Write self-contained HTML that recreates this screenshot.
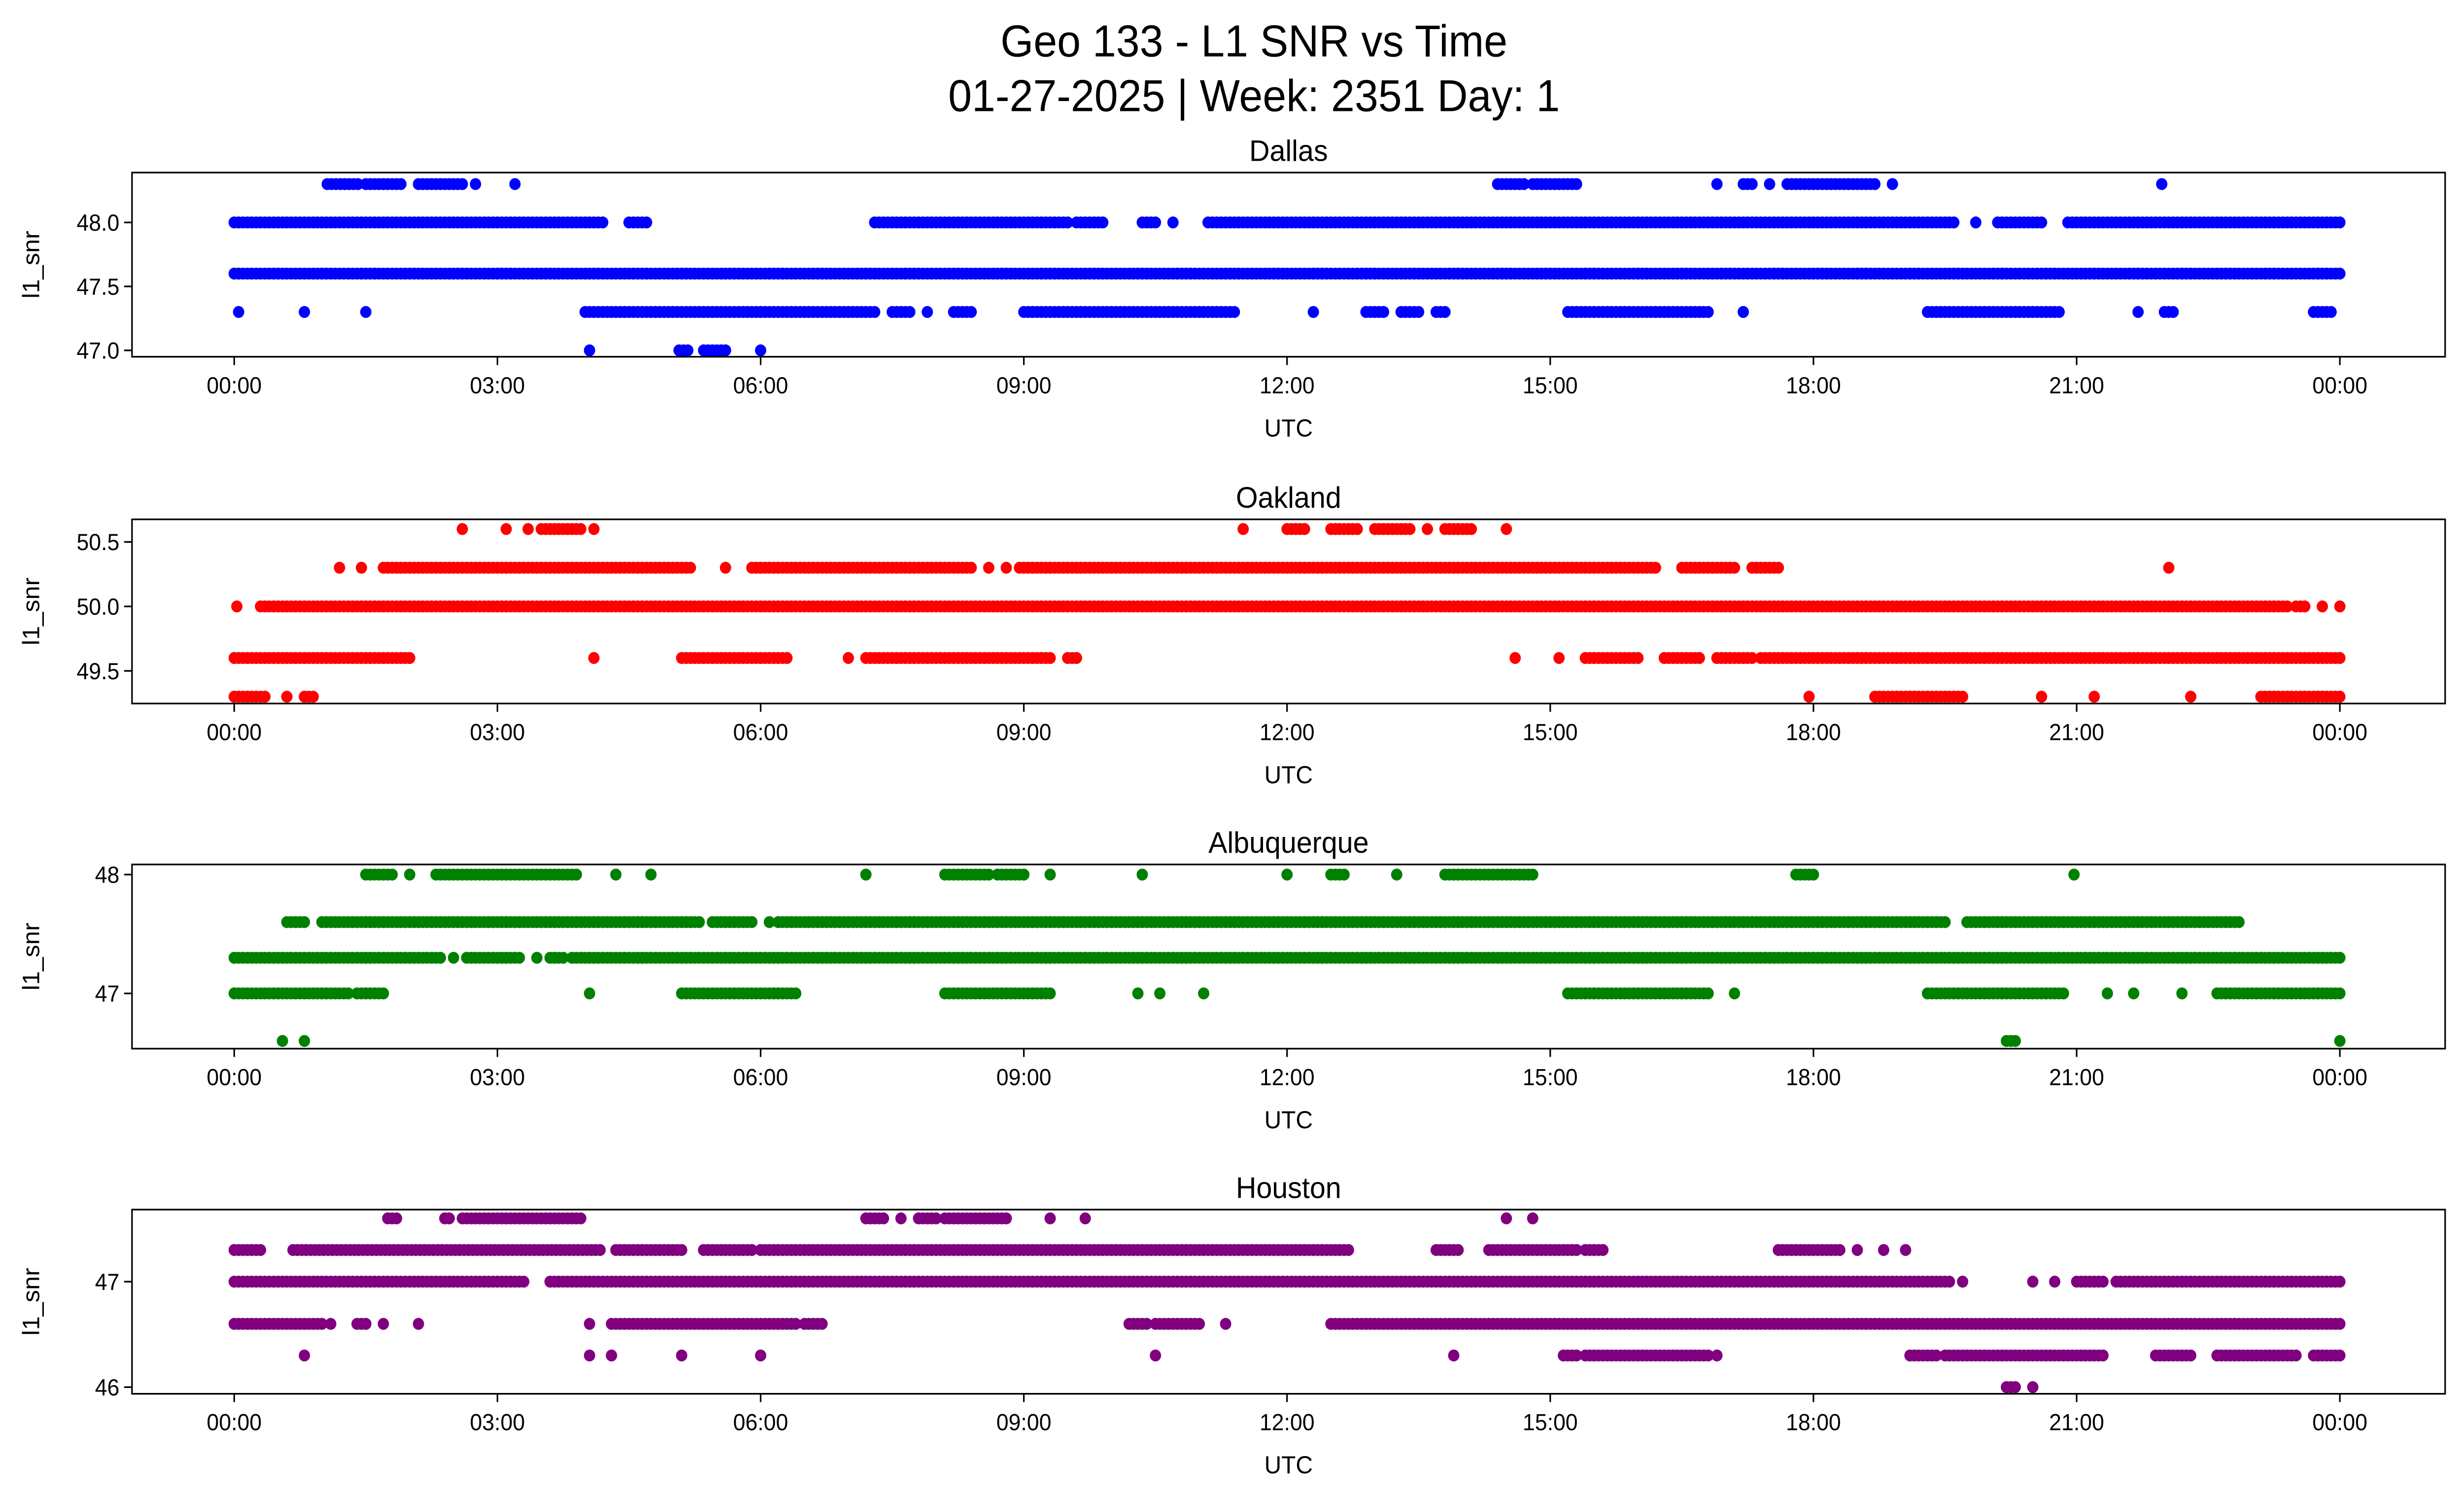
<!DOCTYPE html>
<html><head><meta charset="utf-8">
<style>
html,body{margin:0;padding:0;background:#fff;width:100%;height:100%;overflow:hidden;}
svg{display:block;position:fixed;left:0;top:0;width:100vw;height:100vh;font-family:"Liberation Sans","DejaVu Sans",sans-serif;}
</style></head>
<body>
<svg id="chart" viewBox="0 0 1568 901" preserveAspectRatio="none" xmlns="http://www.w3.org/2000/svg">
<rect x="0" y="0" width="1568" height="901" fill="#fff"/>
<text x="798" y="34" font-size="27" text-anchor="middle" fill="#000">Geo 133 - L1 SNR vs Time</text>
<text x="798" y="67" font-size="27" text-anchor="middle" fill="#000">01-27-2025 | Week: 2351 Day: 1</text>
</svg>
<script>
// x-axis ticks (hours) and labels
const xTickHours = [0,3,6,9,12,15,18,21,24];
const xTickLabels = ["00:00","03:00","06:00","09:00","12:00","15:00","18:00","21:00","00:00"];
const xDomain = [-1.165, 25.2];

// Panel names, colors, y domains and ticks
const panelNames = ["Dallas","Oakland","Albuquerque","Houston"];
const panelColors = ["#0000ff","#ff0000","#008000","#800080"];
const yDomains = [[46.95,48.39],[49.247,50.675],[46.535,48.085],[45.937,47.683]];
const yTicks = [[47.0,47.5,48.0],[49.5,50.0,50.5],[47,48],[46,47]];
const yTickLabels = [["47.0","47.5","48.0"],["49.5","50.0","50.5"],["47","48"],["46","47"]];

// Series runs: [snr, startHour, endHour]
const dallasRuns = [
[48.3,1.06,1.45],[48.3,1.5,1.9],[48.3,2.1,2.6],[48.3,2.75,2.75],[48.3,3.2,3.2],[48.3,14.4,14.7],[48.3,14.8,15.3],[48.3,16.9,16.9],[48.3,17.2,17.3],[48.3,17.5,17.5],[48.3,17.7,18.7],[48.3,18.9,18.9],[48.3,21.97,21.97],
[48.0,0,4.23],[48.0,4.5,4.7],[48.0,7.3,9.5],[48.0,9.6,9.9],[48.0,10.35,10.5],[48.0,10.7,10.7],[48.0,11.1,19.6],[48.0,19.85,19.85],[48.0,20.1,20.6],[48.0,20.9,24],
[47.6,0,24],
[47.3,0.05,0.05],[47.3,0.8,0.8],[47.3,1.5,1.5],[47.3,4.0,7.3],[47.3,7.5,7.7],[47.3,7.9,7.9],[47.3,8.2,8.4],[47.3,9.0,11.4],[47.3,12.3,12.3],[47.3,12.9,13.1],[47.3,13.3,13.5],[47.3,13.7,13.8],[47.3,15.2,16.8],[47.3,17.2,17.2],[47.3,19.3,20.8],[47.3,21.7,21.7],[47.3,22.0,22.1],[47.3,23.7,23.9],
[47.0,4.05,4.05],[47.0,5.07,5.2],[47.0,5.35,5.6],[47.0,6.0,6.0]
];
const oaklandRuns = [
[50.6,2.6,2.6],[50.6,3.1,3.1],[50.6,3.35,3.35],[50.6,3.5,3.95],[50.6,4.1,4.1],[50.6,11.5,11.5],[50.6,12.0,12.2],[50.6,12.5,12.8],[50.6,13.0,13.4],[50.6,13.6,13.6],[50.6,13.8,14.1],[50.6,14.5,14.5],
[50.3,1.2,1.2],[50.3,1.45,1.45],[50.3,1.7,5.2],[50.3,5.6,5.6],[50.3,5.9,8.4],[50.3,8.6,8.6],[50.3,8.8,8.8],[50.3,8.95,16.2],[50.3,16.5,17.1],[50.3,17.3,17.6],[50.3,22.05,22.05],
[50.0,0.03,0.03],[50.0,0.3,23.4],[50.0,23.5,23.6],[50.0,23.8,23.8],[50.0,24,24],
[49.6,0,2.0],[49.6,4.1,4.1],[49.6,5.1,6.3],[49.6,7.0,7.0],[49.6,7.2,9.3],[49.6,9.5,9.6],[49.6,14.6,14.6],[49.6,15.1,15.1],[49.6,15.4,16.0],[49.6,16.3,16.7],[49.6,16.9,17.3],[49.6,17.4,24],
[49.3,0,0.35],[49.3,0.6,0.6],[49.3,0.8,0.9],[49.3,17.95,17.95],[49.3,18.7,19.7],[49.3,20.6,20.6],[49.3,21.2,21.2],[49.3,22.3,22.3],[49.3,23.1,24]
];
const albuquerqueRuns = [
[48.0,1.5,1.8],[48.0,2.0,2.0],[48.0,2.3,3.9],[48.0,4.35,4.35],[48.0,4.75,4.75],[48.0,7.2,7.2],[48.0,8.1,8.6],[48.0,8.7,9.0],[48.0,9.3,9.3],[48.0,10.35,10.35],[48.0,12.0,12.0],[48.0,12.5,12.65],[48.0,13.25,13.25],[48.0,13.8,14.8],[48.0,17.8,18.0],[48.0,20.97,20.97],
[47.6,0.6,0.8],[47.6,1.0,5.3],[47.6,5.45,5.9],[47.6,6.1,6.1],[47.6,6.2,19.5],[47.6,19.75,22.85],
[47.3,0,2.35],[47.3,2.5,2.5],[47.3,2.65,3.25],[47.3,3.45,3.45],[47.3,3.6,3.75],[47.3,3.85,24],
[47.0,0,1.3],[47.0,1.4,1.7],[47.0,4.05,4.05],[47.0,5.1,6.4],[47.0,8.1,9.3],[47.0,10.3,10.3],[47.0,10.55,10.55],[47.0,11.05,11.05],[47.0,15.2,16.8],[47.0,17.1,17.1],[47.0,19.3,20.85],[47.0,21.35,21.35],[47.0,21.65,21.65],[47.0,22.2,22.2],[47.0,22.6,24],
[46.6,0.55,0.55],[46.6,0.8,0.8],[46.6,20.2,20.3],[46.6,24,24]
];
const houstonRuns = [
[47.6,1.75,1.85],[47.6,2.4,2.45],[47.6,2.6,3.95],[47.6,7.2,7.4],[47.6,7.6,7.6],[47.6,7.8,8.0],[47.6,8.1,8.8],[47.6,9.3,9.3],[47.6,9.7,9.7],[47.6,14.5,14.5],[47.6,14.8,14.8],
[47.3,0,0.3],[47.3,0.67,4.2],[47.3,4.35,5.1],[47.3,5.35,5.9],[47.3,6.0,12.7],[47.3,13.7,13.95],[47.3,14.3,15.3],[47.3,15.4,15.6],[47.3,17.6,18.3],[47.3,18.5,18.5],[47.3,18.8,18.8],[47.3,19.05,19.05],
[47.0,0,3.3],[47.0,3.6,19.55],[47.0,19.7,19.7],[47.0,20.5,20.5],[47.0,20.75,20.75],[47.0,21.0,21.3],[47.0,21.45,24],
[46.6,0,1.0],[46.6,1.1,1.1],[46.6,1.4,1.5],[46.6,1.7,1.7],[46.6,2.1,2.1],[46.6,4.05,4.05],[46.6,4.3,6.4],[46.6,6.5,6.7],[46.6,10.2,10.4],[46.6,10.5,11.0],[46.6,11.3,11.3],[46.6,12.5,24],
[46.3,0.8,0.8],[46.3,4.05,4.05],[46.3,4.3,4.3],[46.3,5.1,5.1],[46.3,6.0,6.0],[46.3,10.5,10.5],[46.3,13.9,13.9],[46.3,15.15,15.3],[46.3,15.4,16.8],[46.3,16.9,16.9],[46.3,19.1,19.4],[46.3,19.5,21.3],[46.3,21.9,22.3],[46.3,22.6,23.5],[46.3,23.7,24],
[46.0,20.2,20.3],[46.0,20.5,20.5]
];
const allRuns = [dallasRuns, oaklandRuns, albuquerqueRuns, houstonRuns];

// layout
const NS = "http://www.w3.org/2000/svg";
const svg = document.getElementById("chart");
const axLeft = 84, axRight = 1556;
const axTops = [104, 313, 521, 729];
const axH = 111;
const step = 0.05;
function mk(tag, attrs, parent){
  const e = document.createElementNS(NS, tag);
  for (const k in attrs) e.setAttribute(k, attrs[k]);
  (parent||svg).appendChild(e);
  return e;
}
function xScale(h){ return axLeft + (h - xDomain[0]) / (xDomain[1] - xDomain[0]) * (axRight - axLeft); }

for (let p = 0; p < 4; p++) {
  const top = axTops[p], bot = top + axH;
  const dom = yDomains[p];
  const yScale = v => bot - (v - dom[0]) / (dom[1] - dom[0]) * axH;
  const g = mk("g", {});
  
  

  const t = mk("text", {x:(axLeft+axRight)/2, y: top-7, "font-size":18, "text-anchor":"middle", fill:"#000"}, g);
  t.textContent = panelNames[p];
  
  

  const pg = mk("g", {fill: panelColors[p]}, g);
  
  
  for (const r of allRuns[p]) {
    const y = yScale(r[0]);
    for (let h = r[1]; h <= r[2] + 1e-9; h += step) {
      const c = mk("circle", {cx: xScale(h).toFixed(2), cy: y.toFixed(2), r: 3.6}, pg);
      
      
    }
  }

  const fr = mk("rect", {x:axLeft, y:top, width:axRight-axLeft, height:axH, fill:"none", stroke:"#000", "stroke-width":1}, g);
  
  

  for (let i = 0; i < xTickHours.length; i++) {
    const x = xScale(xTickHours[i]);
    mk("line", {x1:x, x2:x, y1:bot, y2:bot+5, stroke:"#000", "stroke-width":1}, g);
    const tl = mk("text", {x:x, y:bot+22, "font-size":14, "text-anchor":"middle", fill:"#000"}, g);
    tl.textContent = xTickLabels[i];
    
    
  }
  const xl = mk("text", {x:(axLeft+axRight)/2, y:bot+48, "font-size":15, "text-anchor":"middle", fill:"#000"}, g);
  xl.textContent = "UTC";
  
  

  for (let i = 0; i < yTicks[p].length; i++) {
    const y = yScale(yTicks[p][i]);
    mk("line", {x1:axLeft-5, x2:axLeft, y1:y, y2:y, stroke:"#000", "stroke-width":1}, g);
    const yl = mk("text", {x:axLeft-8, y:y+5, "font-size":14, "text-anchor":"end", fill:"#000"}, g);
    yl.textContent = yTickLabels[p][i];
    
    
  }
  const yt = mk("text", {x:0, y:0, "font-size":15, "text-anchor":"middle", fill:"#000",
    transform:"translate(25," + (top + axH/2) + ") rotate(-90)"}, g);
  yt.textContent = "l1_snr";
  
  
}
</script>
</body></html>
